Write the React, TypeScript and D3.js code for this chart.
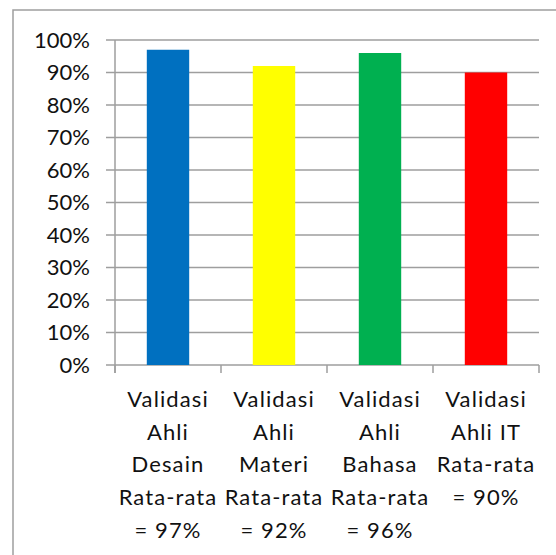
import React, { useRef, useEffect } from 'react';
import * as d3 from 'd3';

const categories: string[] = ['Desain', 'Materi', 'Bahasa', 'IT'];
const values: number[] = [0.97, 0.92, 0.96, 0.90];
const colors: string[] = ['#0070C0', '#FFFF00', '#00B050', '#FF0000'];
const labelLines: string[][] = [
    ['Validasi', 'Ahli', 'Desain', 'Rata-rata', '= 97%'],
    ['Validasi', 'Ahli', 'Materi', 'Rata-rata', '= 92%'],
    ['Validasi', 'Ahli', 'Bahasa', 'Rata-rata', '= 96%'],
    ['Validasi', 'Ahli IT', 'Rata-rata', '= 90%'],
];
const yTicks: number[] = [0, 0.1, 0.2, 0.3, 0.4, 0.5, 0.6, 0.7, 0.8, 0.9, 1.0];

function App() {
    const ref = useRef<SVGSVGElement>(null);
    const width = 556;
    const height = 555;

    useEffect(() => {
        if (!ref.current) return;
        const svg = d3.select(ref.current);
        svg.selectAll('*').remove();

        const left = 115, right = 539, top = 40, bottom = 365;
        const x = d3.scaleBand<string>().domain(categories).range([left, right])
            .paddingInner(0.6).paddingOuter(0.3);
        const y = d3.scaleLinear().domain([0, 1]).range([bottom, top]);
        const grid = '#9e9e9e';
        const font = 'Lato, sans-serif';

        // outer frame
        svg.append('rect')
            .attr('x', 13).attr('y', 10)
            .attr('width', 600).attr('height', 600)
            .attr('fill', 'none').attr('stroke', grid).attr('stroke-width', 1.5);

        // gridlines + y ticks
        svg.append('g').selectAll('line')
            .data(yTicks)
            .join('line')
                .attr('x1', left - 9).attr('x2', right)
                .attr('y1', d => y(d)).attr('y2', d => y(d))
                .attr('stroke', grid).attr('stroke-width', 1.5);

        svg.append('line')
            .attr('x1', left).attr('x2', left)
            .attr('y1', top).attr('y2', bottom + 8)
            .attr('stroke', grid).attr('stroke-width', 1.5);

        svg.append('g')
                .attr('font-family', font).attr('font-size', 22)
                .attr('text-anchor', 'end').attr('fill', '#111')
            .selectAll('text')
            .data(yTicks)
            .join('text')
                .attr('x', 90).attr('y', d => y(d))
                .attr('dy', '0.36em')
                .text(d => d3.format('.0%')(d));

        // bars
        svg.append('g').selectAll('rect')
            .data(categories)
            .join('rect')
                .attr('x', d => x(d)!)
                .attr('width', x.bandwidth())
                .attr('y', (d, i) => y(values[i]))
                .attr('height', (d, i) => bottom - y(values[i]))
                .attr('fill', (d, i) => colors[i]);

        // category ticks
        const step = x.step();
        svg.append('g').selectAll('line')
            .data(d3.range(categories.length + 1))
            .join('line')
                .attr('x1', i => left + i * step).attr('x2', i => left + i * step)
                .attr('y1', bottom).attr('y2', bottom + 8)
                .attr('stroke', grid).attr('stroke-width', 1.5);

        // category labels
        const lab = svg.append('g')
            .attr('font-family', font).attr('font-size', 22)
            .attr('letter-spacing', 1.1).attr('fill', '#111')
            .attr('text-anchor', 'middle');
        categories.forEach((c, i) => {
            const cx = x(c)! + x.bandwidth() / 2;
            lab.append('text')
                .selectAll('tspan')
                .data(labelLines[i])
                .join('tspan')
                    .attr('x', cx)
                    .attr('y', (d, j) => 407 + j * 32.7)
                    .text(d => d);
        });
    }, []);

    return (
        <svg ref={ref} width={width} height={height}
            style={{ position: 'absolute', left: 0, top: 0, background: '#fff' }} />
    );
}

export default App;
